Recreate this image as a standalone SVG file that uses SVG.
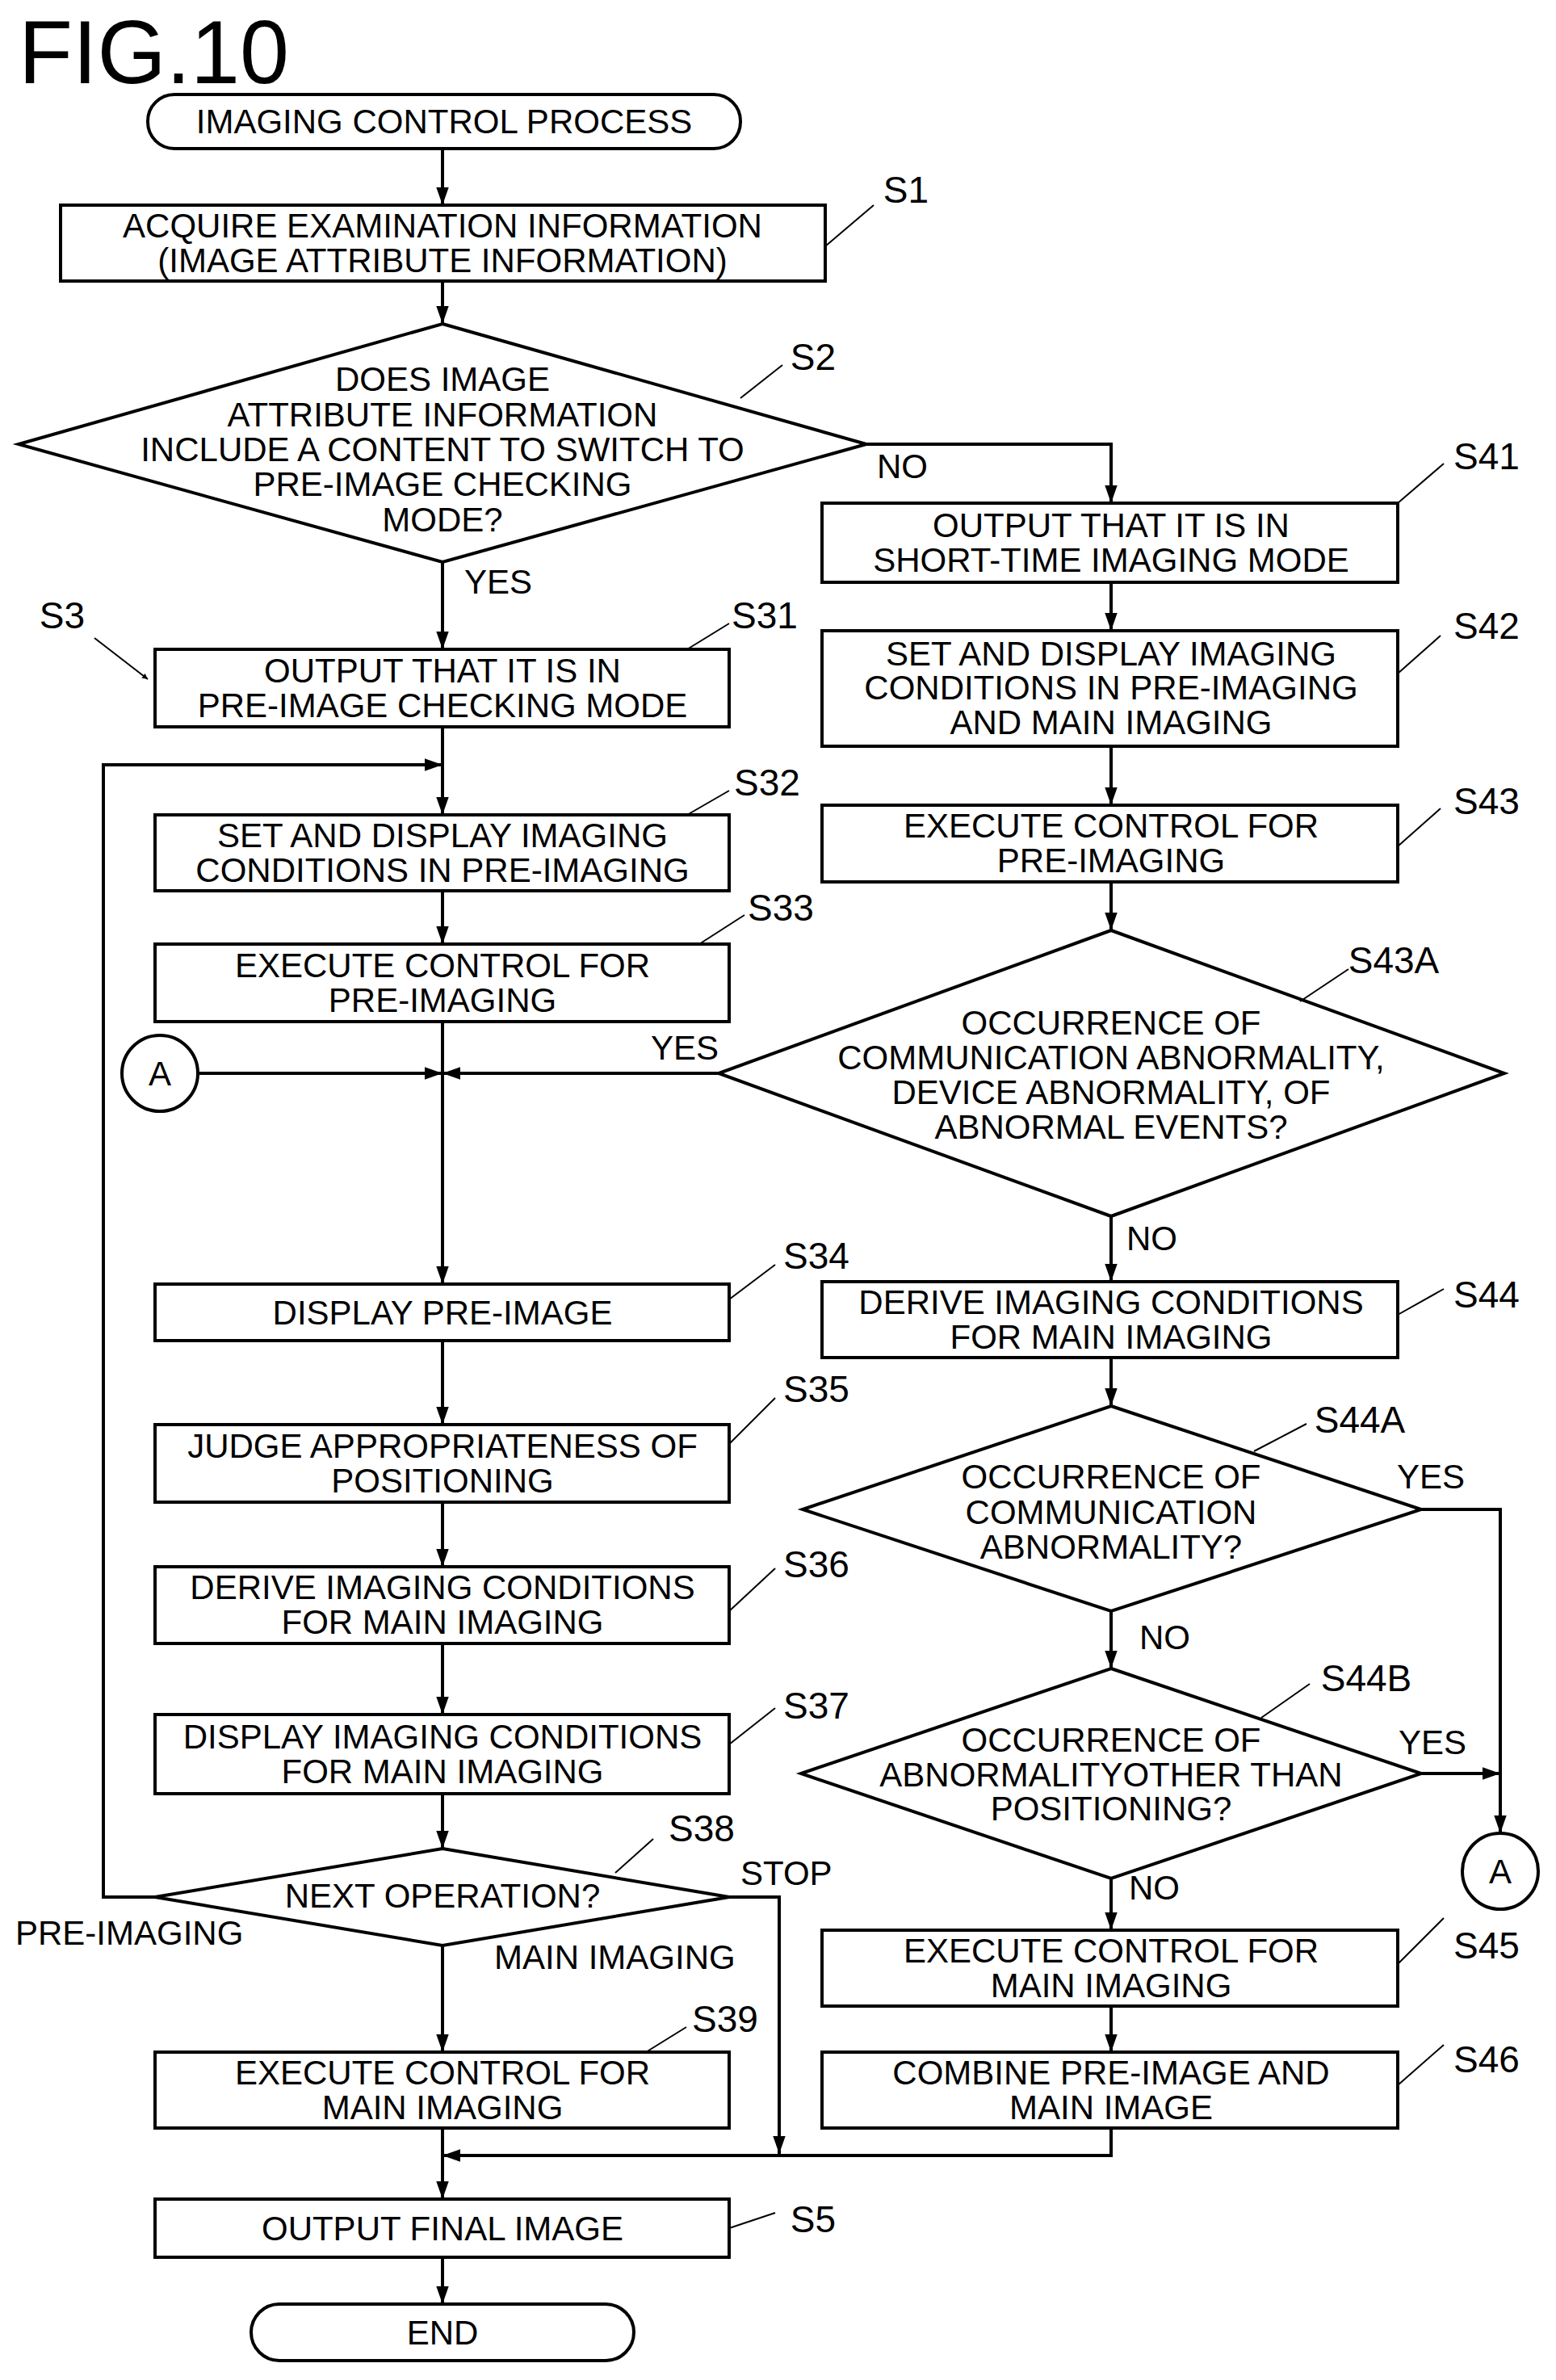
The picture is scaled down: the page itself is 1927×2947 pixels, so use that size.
<svg xmlns="http://www.w3.org/2000/svg" width="1927" height="2947" viewBox="0 0 1927 2947">
<style>
text{font-family:"Liberation Sans",Arial,sans-serif;fill:#000}
.t{font-size:42px;text-anchor:middle}
.l{font-size:42px}
.s{font-size:46px;text-anchor:middle}
.b{fill:#fff;stroke:#000;stroke-width:4}
.c{fill:none;stroke:#000;stroke-width:4}
.ld{stroke:#000;stroke-width:2;fill:none}
</style>
<defs>
<marker id="ar" viewBox="0 0 10 10" refX="10" refY="5" markerWidth="7" markerHeight="7" markerUnits="userSpaceOnUse" orient="auto"><path d="M0,0L10,5L0,10z"/></marker>
<marker id="a" viewBox="0 0 10 10" refX="10" refY="5" markerWidth="22" markerHeight="22" markerUnits="userSpaceOnUse" orient="auto"><path d="M0,1.5L10,5L0,8.5z"/></marker>
</defs>
<rect width="1927" height="2947" fill="#fff"/>
<text x="23" y="103" font-size="112" textLength="335" lengthAdjust="spacingAndGlyphs">FIG.10</text>

<g id="connectors" class="c">
<path d="M548,184V254" marker-end="url(#a)"/>
<path d="M548,348V401" marker-end="url(#a)"/>
<path d="M548,696V804" marker-end="url(#a)"/>
<path d="M1073,550H1376V623" marker-end="url(#a)"/>
<path d="M1376,721V781" marker-end="url(#a)"/>
<path d="M1376,924V997" marker-end="url(#a)"/>
<path d="M1376,1092V1152" marker-end="url(#a)"/>
<path d="M890,1329H548" marker-end="url(#a)"/>
<path d="M245,1329H548" marker-end="url(#a)"/>
<path d="M548,900V1009" marker-end="url(#a)"/>
<path d="M192,2349H128V947H548" marker-end="url(#a)"/>
<path d="M548,1103V1169" marker-end="url(#a)"/>
<path d="M548,1265V1590" marker-end="url(#a)"/>
<path d="M548,1660V1764" marker-end="url(#a)"/>
<path d="M548,1860V1940" marker-end="url(#a)"/>
<path d="M548,2035V2123" marker-end="url(#a)"/>
<path d="M548,2221V2289" marker-end="url(#a)"/>
<path d="M548,2409V2541" marker-end="url(#a)"/>
<path d="M548,2635V2723" marker-end="url(#a)"/>
<path d="M548,2795V2853" marker-end="url(#a)"/>
<path d="M903,2349H965V2667" marker-end="url(#a)"/>
<path d="M1376,2635V2669H548" marker-end="url(#a)"/>
<path d="M1376,1506V1587" marker-end="url(#a)"/>
<path d="M1376,1681V1741" marker-end="url(#a)"/>
<path d="M1376,1995V2066" marker-end="url(#a)"/>
<path d="M1376,2326V2390" marker-end="url(#a)"/>
<path d="M1376,2484V2541" marker-end="url(#a)"/>
<path d="M1760,1869H1858V2270" marker-end="url(#a)"/>
<path d="M1760,2196H1858" marker-end="url(#a)"/>
<path d="M117,790L183,841" stroke-width="2" marker-end="url(#ar)"/>
</g>
<g id="labels">
<text class="l" x="575" y="735">YES</text>
<text class="l" x="1086" y="592">NO</text>
<text class="l" x="806" y="1312">YES</text>
<text class="l" x="1395" y="1548">NO</text>
<text class="l" x="1730" y="1843">YES</text>
<text class="l" x="1411" y="2042">NO</text>
<text class="l" x="1732" y="2172">YES</text>
<text class="l" x="1398" y="2352">NO</text>
<text class="l" x="917" y="2334">STOP</text>
<text class="l" x="19" y="2408">PRE-IMAGING</text>
<text class="l" x="612" y="2438">MAIN IMAGING</text>
</g>

<g id="start"><rect class="b" x="183" y="117" width="734" height="67" rx="33"/><text class="t" x="550" y="165">IMAGING CONTROL PROCESS</text></g>
<g id="S1"><rect class="b" x="75" y="254" width="947" height="94"/><text class="t" x="548" y="294">ACQUIRE EXAMINATION INFORMATION</text><text class="t" x="548" y="337">(IMAGE ATTRIBUTE INFORMATION)</text>
<path class="ld" d="M1022,305L1082,254"/><text class="s" x="1122" y="251">S1</text></g>
<g id="S2"><path class="b" d="M548,401L1073,550L548,696L23,550Z"/>
<text class="t" x="548" y="484">DOES IMAGE</text><text class="t" x="548" y="528">ATTRIBUTE INFORMATION</text><text class="t" x="548" y="571">INCLUDE A CONTENT TO SWITCH TO</text><text class="t" x="548" y="614">PRE-IMAGE CHECKING</text><text class="t" x="548" y="658">MODE?</text>
<path class="ld" d="M917,493L969,452"/><text class="s" x="1007" y="458">S2</text></g>
<g id="S41"><rect class="b" x="1018" y="623" width="713" height="98"/><text class="t" x="1376" y="665">OUTPUT THAT IT IS IN</text><text class="t" x="1376" y="708">SHORT-TIME IMAGING MODE</text>
<path class="ld" d="M1731,623L1788,574"/><text class="s" x="1841" y="581">S41</text></g>
<g id="S3lbl"><text class="s" x="77" y="778">S3</text></g>
<g id="S31"><rect class="b" x="192" y="804" width="711" height="96"/><text class="t" x="548" y="845">OUTPUT THAT IT IS IN</text><text class="t" x="548" y="888">PRE-IMAGE CHECKING MODE</text>
<path class="ld" d="M851,804L903,772"/><text class="s" x="947" y="778">S31</text></g>
<g id="S42"><rect class="b" x="1018" y="781" width="713" height="143"/><text class="t" x="1376" y="824">SET AND DISPLAY IMAGING</text><text class="t" x="1376" y="866">CONDITIONS IN PRE-IMAGING</text><text class="t" x="1376" y="909">AND MAIN IMAGING</text>
<path class="ld" d="M1731,834L1784,787"/><text class="s" x="1841" y="791">S42</text></g>
<g id="S32"><rect class="b" x="192" y="1009" width="711" height="94"/><text class="t" x="548" y="1049">SET AND DISPLAY IMAGING</text><text class="t" x="548" y="1092">CONDITIONS IN PRE-IMAGING</text>
<path class="ld" d="M851,1009L903,979"/><text class="s" x="950" y="985">S32</text></g>
<g id="S43"><rect class="b" x="1018" y="997" width="713" height="95"/><text class="t" x="1376" y="1037">EXECUTE CONTROL FOR</text><text class="t" x="1376" y="1080">PRE-IMAGING</text>
<path class="ld" d="M1731,1048L1784,1001"/><text class="s" x="1841" y="1008">S43</text></g>
<g id="S33"><rect class="b" x="192" y="1169" width="711" height="96"/><text class="t" x="548" y="1210">EXECUTE CONTROL FOR</text><text class="t" x="548" y="1253">PRE-IMAGING</text>
<path class="ld" d="M866,1169L922,1133"/><text class="s" x="967" y="1140">S33</text></g>
<g id="S43A"><path class="b" d="M1376,1152L1863,1329L1376,1506L890,1329Z"/>
<text class="t" x="1376" y="1281">OCCURRENCE OF</text><text class="t" x="1376" y="1324">COMMUNICATION ABNORMALITY,</text><text class="t" x="1376" y="1367">DEVICE ABNORMALITY, OF</text><text class="t" x="1376" y="1410">ABNORMAL EVENTS?</text>
<path class="ld" d="M1610,1240L1670,1200"/><text class="s" x="1726" y="1205">S43A</text></g>
<g id="A1"><circle class="b" cx="198" cy="1329" r="47"/><text class="t" x="198" y="1344">A</text></g>
<g id="S34"><rect class="b" x="192" y="1590" width="711" height="70"/><text class="t" x="548" y="1640">DISPLAY PRE-IMAGE</text>
<path class="ld" d="M903,1609L960,1566"/><text class="s" x="1011" y="1571">S34</text></g>
<g id="S44"><rect class="b" x="1018" y="1587" width="713" height="94"/><text class="t" x="1376" y="1627">DERIVE IMAGING CONDITIONS</text><text class="t" x="1376" y="1670">FOR MAIN IMAGING</text>
<path class="ld" d="M1731,1628L1788,1596"/><text class="s" x="1841" y="1619">S44</text></g>
<g id="S35"><rect class="b" x="192" y="1764" width="711" height="96"/><text class="t" x="548" y="1805">JUDGE APPROPRIATENESS OF</text><text class="t" x="548" y="1848">POSITIONING</text>
<path class="ld" d="M903,1788L960,1731"/><text class="s" x="1011" y="1736">S35</text></g>
<g id="S44A"><path class="b" d="M1376,1741L1760,1869L1376,1995L994,1869Z"/>
<text class="t" x="1376" y="1843">OCCURRENCE OF</text><text class="t" x="1376" y="1887">COMMUNICATION</text><text class="t" x="1376" y="1930">ABNORMALITY?</text>
<path class="ld" d="M1553,1797L1618,1763"/><text class="s" x="1684" y="1774">S44A</text></g>
<g id="S36"><rect class="b" x="192" y="1940" width="711" height="95"/><text class="t" x="548" y="1980">DERIVE IMAGING CONDITIONS</text><text class="t" x="548" y="2023">FOR MAIN IMAGING</text>
<path class="ld" d="M903,1995L960,1942"/><text class="s" x="1011" y="1953">S36</text></g>
<g id="S37"><rect class="b" x="192" y="2123" width="711" height="98"/><text class="t" x="548" y="2165">DISPLAY IMAGING CONDITIONS</text><text class="t" x="548" y="2208">FOR MAIN IMAGING</text>
<path class="ld" d="M903,2160L960,2115"/><text class="s" x="1011" y="2128">S37</text></g>
<g id="S44B"><path class="b" d="M1376,2066L1760,2196L1376,2326L992,2196Z"/>
<text class="t" x="1376" y="2169">OCCURRENCE OF</text><text class="t" x="1376" y="2212">ABNORMALITYOTHER THAN</text><text class="t" x="1376" y="2254">POSITIONING?</text>
<path class="ld" d="M1562,2127L1622,2085"/><text class="s" x="1692" y="2094">S44B</text></g>
<g id="A2"><circle class="b" cx="1858" cy="2317" r="47"/><text class="t" x="1858" y="2332">A</text></g>
<g id="S38"><path class="b" d="M548,2289L903,2349L548,2409L192,2349Z"/><text class="t" x="548" y="2362">NEXT OPERATION?</text>
<path class="ld" d="M762,2319L809,2277"/><text class="s" x="869" y="2280">S38</text></g>
<g id="S45"><rect class="b" x="1018" y="2390" width="713" height="94"/><text class="t" x="1376" y="2430">EXECUTE CONTROL FOR</text><text class="t" x="1376" y="2473">MAIN IMAGING</text>
<path class="ld" d="M1731,2432L1788,2375"/><text class="s" x="1841" y="2425">S45</text></g>
<g id="S39"><rect class="b" x="192" y="2541" width="711" height="94"/><text class="t" x="548" y="2581">EXECUTE CONTROL FOR</text><text class="t" x="548" y="2624">MAIN IMAGING</text>
<path class="ld" d="M800,2541L850,2510"/><text class="s" x="898" y="2516">S39</text></g>
<g id="S46"><rect class="b" x="1018" y="2541" width="713" height="94"/><text class="t" x="1376" y="2581">COMBINE PRE-IMAGE AND</text><text class="t" x="1376" y="2624">MAIN IMAGE</text>
<path class="ld" d="M1731,2582L1788,2532"/><text class="s" x="1841" y="2566">S46</text></g>
<g id="S5"><rect class="b" x="192" y="2723" width="711" height="72"/><text class="t" x="548" y="2774">OUTPUT FINAL IMAGE</text>
<path class="ld" d="M903,2759L960,2740"/><text class="s" x="1007" y="2764">S5</text></g>
<g id="end"><rect class="b" x="311" y="2853" width="474" height="70" rx="35"/><text class="t" x="548" y="2903">END</text></g>
</svg>
